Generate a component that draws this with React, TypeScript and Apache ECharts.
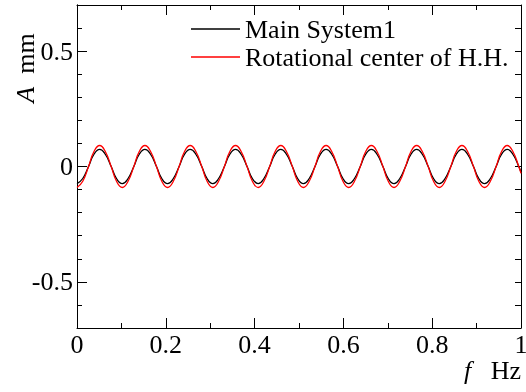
import React, { useEffect, useRef } from "react";
import * as echarts from "echarts";

const xValues = [
  0, 0.013, 0.026, 0.038, 0.051, 0.064, 0.077, 0.089,
  0.102, 0.115, 0.128, 0.14, 0.153, 0.166, 0.179, 0.191,
  0.204, 0.217, 0.23, 0.242, 0.255, 0.268, 0.281, 0.293,
  0.306, 0.319, 0.332, 0.344, 0.357, 0.37, 0.383, 0.395,
  0.408, 0.421, 0.434, 0.446, 0.459, 0.472, 0.485, 0.497,
  0.51, 0.523, 0.536, 0.548, 0.561, 0.574, 0.587, 0.599,
  0.612, 0.625, 0.638, 0.65, 0.663, 0.676, 0.689, 0.701,
  0.714, 0.727, 0.74, 0.752, 0.765, 0.778, 0.791, 0.803,
  0.816, 0.829, 0.842, 0.854, 0.867, 0.88, 0.893, 0.905,
  0.918, 0.931, 0.944, 0.956, 0.969, 0.982, 0.995, 1.0,
];

const mainSystem1 = [
  -0.074, -0.052, 0, 0.052, 0.074, 0.052, 0, -0.052,
  -0.074, -0.052, 0, 0.052, 0.074, 0.052, 0, -0.052,
  -0.074, -0.052, 0, 0.052, 0.074, 0.052, 0, -0.052,
  -0.074, -0.052, 0, 0.052, 0.074, 0.052, 0, -0.052,
  -0.074, -0.052, 0, 0.052, 0.074, 0.052, 0, -0.052,
  -0.074, -0.052, 0, 0.052, 0.074, 0.052, 0, -0.052,
  -0.074, -0.052, 0, 0.052, 0.074, 0.052, 0, -0.052,
  -0.074, -0.052, 0, 0.052, 0.074, 0.052, 0, -0.052,
  -0.074, -0.052, 0, 0.052, 0.074, 0.052, 0, -0.052,
  -0.074, -0.052, 0, 0.052, 0.074, 0.052, 0, -0.024,
];

const rotationalCenter = [
  -0.091, -0.064, 0, 0.064, 0.091, 0.064, 0, -0.064,
  -0.091, -0.064, 0, 0.064, 0.091, 0.064, 0, -0.064,
  -0.091, -0.064, 0, 0.064, 0.091, 0.064, 0, -0.064,
  -0.091, -0.064, 0, 0.064, 0.091, 0.064, 0, -0.064,
  -0.091, -0.064, 0, 0.064, 0.091, 0.064, 0, -0.064,
  -0.091, -0.064, 0, 0.064, 0.091, 0.064, 0, -0.064,
  -0.091, -0.064, 0, 0.064, 0.091, 0.064, 0, -0.064,
  -0.091, -0.064, 0, 0.064, 0.091, 0.064, 0, -0.064,
  -0.091, -0.064, 0, 0.064, 0.091, 0.064, 0, -0.064,
  -0.091, -0.064, 0, 0.064, 0.091, 0.064, 0, -0.03,
];

const seriesNames = ["Main System1", "Rotational center of H.H."];
const yLabelValues = [-0.5, 0, 0.5];

const FONT = '"Liberation Serif", "Times New Roman", serif';

export default function App() {
  const ref = useRef<HTMLDivElement>(null);
  useEffect(() => {
    if (!ref.current) return;
    const chart = echarts.init(ref.current, null, { renderer: "svg" });
    const axisLine = { show: true, onZero: false, lineStyle: { color: "#000", width: 1 } };
    const baseX = {
      type: "value" as const,
      min: 0,
      max: 1,
      interval: 0.2,
      axisLine,
      splitLine: { show: false },
      axisTick: { show: true, inside: true, length: 10, lineStyle: { color: "#000" } },
      minorTick: { show: true, splitNumber: 2, length: 5, lineStyle: { color: "#000" } },
    };
    const baseY = {
      type: "value" as const,
      min: -0.7,
      max: 0.7,
      interval: 0.1,
      axisLine,
      splitLine: { show: false },
    };
    chart.setOption({
      animation: false,
      grid: { left: 77, right: 5, top: 5, bottom: 64, outerBoundsMode: "none" },
      legend: {
        orient: "vertical",
        left: 186,
        top: 11,
        icon: "rect",
        itemWidth: 49,
        itemHeight: 1.4,
        itemGap: 2,
        textStyle: { fontSize: 26, fontFamily: FONT, color: "#000", lineHeight: 26 },
        data: seriesNames,
      },
      xAxis: [
        {
          ...baseX,
          position: "bottom",
          axisLabel: {
            show: true,
            fontSize: 26,
            fontFamily: FONT,
            color: "#000",
            margin: 3,
          },
        },
        { ...baseX, position: "top", axisLabel: { show: false } },
      ],
      yAxis: [
        {
          ...baseY,
          position: "left",
          axisTick: { show: true, inside: true, length: 5, lineStyle: { color: "#000" } },
          axisLabel: { show: false },
        },
        {
          ...baseY,
          position: "left",
          axisTick: {
            show: true,
            inside: true,
            length: 10,
            customValues: yLabelValues,
            lineStyle: { color: "#000" },
          },
          axisLabel: {
            show: true,
            customValues: yLabelValues,
            fontSize: 26,
            fontFamily: FONT,
            color: "#000",
            margin: 4,
            formatter: (v: number) => String(v),
          },
        },
        {
          ...baseY,
          position: "right",
          axisTick: { show: true, inside: true, length: 6, lineStyle: { color: "#000" } },
          axisLabel: { show: false },
        },
      ],
      graphic: [
        {
          type: "text",
          x: 25,
          y: 68,
          rotation: Math.PI / 2,
          style: {
            text: "{i|A}  mm",
            fontSize: 26,
            fontFamily: FONT,
            fill: "#000",
            align: "center",
            verticalAlign: "middle",
            rich: { i: { fontStyle: "italic", fontSize: 26, fontFamily: FONT } },
          },
        },
        {
          type: "text",
          x: 521,
          y: 370,
          style: {
            text: "{i|f}   Hz",
            fontSize: 26,
            fontFamily: FONT,
            fill: "#000",
            align: "right",
            verticalAlign: "middle",
            rich: { i: { fontStyle: "italic", fontSize: 26, fontFamily: FONT } },
          },
        },
      ],
      series: [
        {
          name: seriesNames[0],
          type: "line",
          xAxisIndex: 0,
          yAxisIndex: 0,
          data: xValues.map((x, i) => [x, mainSystem1[i]]),
          smooth: true,
          symbol: "none",
          lineStyle: { color: "#000", width: 1.3 },
          itemStyle: { color: "#000" },
        },
        {
          name: seriesNames[1],
          type: "line",
          xAxisIndex: 0,
          yAxisIndex: 0,
          data: xValues.map((x, i) => [x, rotationalCenter[i]]),
          smooth: true,
          symbol: "none",
          lineStyle: { color: "#ff0000", width: 1.3 },
          itemStyle: { color: "#ff0000" },
        },
      ],
    });
    return () => chart.dispose();
  }, []);
  return (
    <div
      ref={ref}
      style={{ position: "fixed", left: 0, top: 0, width: 526, height: 392 }}
    />
  );
}
